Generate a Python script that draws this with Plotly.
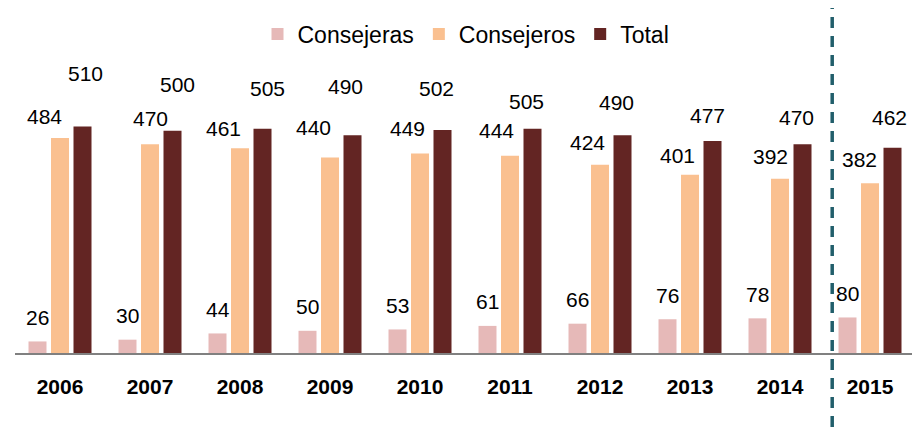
import plotly.graph_objects as go

years = ["2006", "2007", "2008", "2009", "2010", "2011", "2012", "2013", "2014", "2015"]
consejeras = [26, 30, 44, 50, 53, 61, 66, 76, 78, 80]
consejeros = [484, 470, 461, 440, 449, 444, 424, 401, 392, 382]
total = [510, 500, 505, 490, 502, 505, 490, 477, 470, 462]

series_names = ["Consejeras", "Consejeros", "Total"]
colors = ["#E6B9B8", "#FAC090", "#632523"]

# label pixel offsets (layout tweaks, like Excel's manual label placement)
total_label_dy = [53, 46, 40, 49, 41, 27, 33, 26, 27, 30]
total_label_dx = [3, 5, 5, -7, -6, -6, -6, -5, -6, -3]
consejeros_label_dy = [21, 26, 20, 30, 25, 25, 22, 19, 22, 24]
consejeros_label_dx = [-16, 0, -17, -17, -13, -14, -13, -13, -10, -11]

FONT = "Liberation Sans, Arial, sans-serif"
# the page body has an 8px margin, so the figure is 912x419 placed at (8, 8)
W, H = 912, 419
T, B, L, R = 22, 74, 7, 5
px_per_unit = 0.457
plot_h = H - T - B
ymax = plot_h / px_per_unit

fig = go.Figure()
for name, vals, col in zip(series_names, [consejeras, consejeros, total], colors):
    fig.add_trace(go.Bar(x=years, y=vals, name=name, marker=dict(color=col, line=dict(width=0)),
                         hoverinfo="x+y+name"))

offsets = [-0.25, 0.0, 0.25]
lbl_font = dict(size=21, color="#000", family=FONT)
ann = []
for i in range(len(years)):
    ann.append(dict(x=i + offsets[0], y=consejeras[i], xref="x", yref="y", text=str(consejeras[i]),
                    showarrow=False, yshift=24, font=lbl_font))
    ann.append(dict(x=i + offsets[1], y=consejeros[i], xref="x", yref="y", text=str(consejeros[i]),
                    showarrow=False, yshift=consejeros_label_dy[i], xshift=consejeros_label_dx[i],
                    font=lbl_font))
    ann.append(dict(x=i + offsets[2], y=total[i], xref="x", yref="y", text=str(total[i]),
                    showarrow=False, yshift=total_label_dy[i], xshift=total_label_dx[i],
                    font=lbl_font))

sep_x = len(years) - 1.5 + 0.08
fig.add_shape(type="line", xref="x", yref="paper", x0=sep_x, x1=sep_x,
              y0=-(B + 2) / plot_h, y1=1 + (T + 12) / plot_h,
              line=dict(color="#215E6B", width=3.5, dash="11px,8px"))

fig.update_layout(
    width=W, height=H,
    margin=dict(l=L, r=R, t=T, b=B),
    plot_bgcolor="white", paper_bgcolor="white",
    barmode="group", bargap=0.25, bargroupgap=0.2,
    annotations=ann,
    showlegend=True,
    legend=dict(orientation="h", x=(466 - 15) / 900, xanchor="center", y=1 + 5 / plot_h, yanchor="middle",
                font=dict(size=23, family=FONT, color="#000"), itemwidth=30, traceorder="normal"),
    xaxis=dict(type="category", range=[-0.5, len(years) - 0.5], showgrid=False,
               showline=True, linecolor="#808080", linewidth=2, ticks="",
               tickfont=dict(size=21, family=FONT, color="#000", weight="bold"),
               ticklabelstandoff=14),
    yaxis=dict(range=[0, ymax], visible=False, showgrid=False, zeroline=False),
)

fig.write_html("out.html")
